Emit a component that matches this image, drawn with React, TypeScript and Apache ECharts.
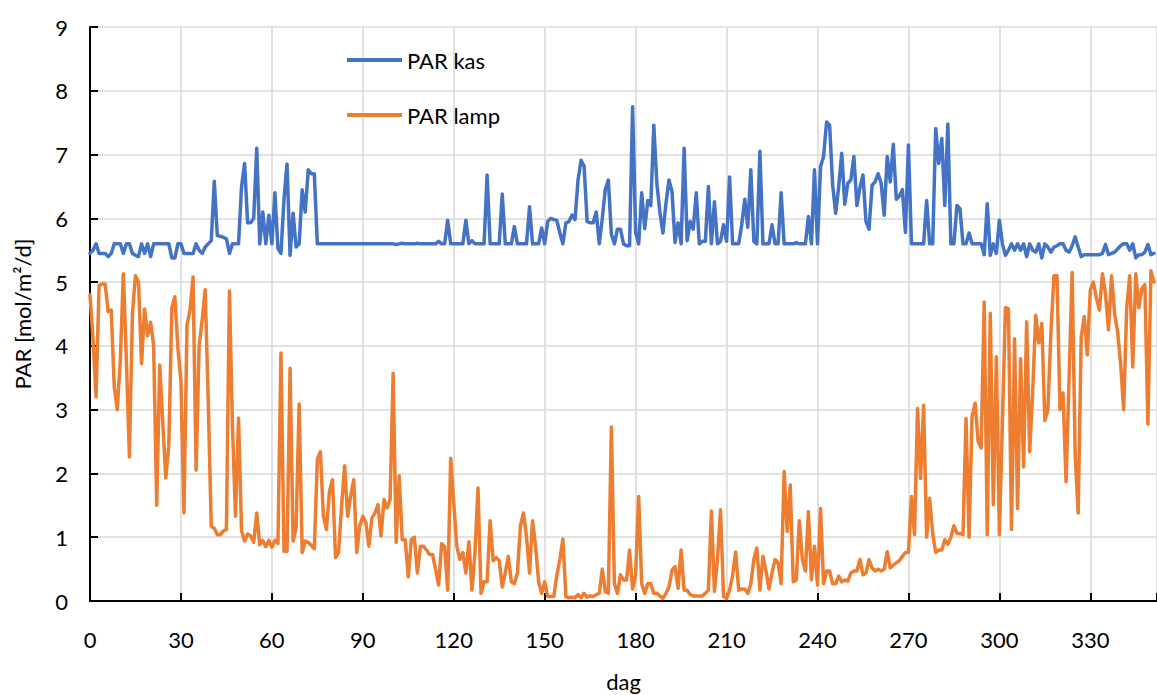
import React, { useEffect, useRef } from "react";
import * as echarts from "echarts";

// PAR kas (blue), one value per day starting at day 0
const parKas: number[] = [
  5.45, 5.5, 5.6, 5.45, 5.45, 5.45, 5.4, 5.45, 5.6, 5.6,
  5.6, 5.45, 5.6, 5.6, 5.45, 5.42, 5.4, 5.6, 5.45, 5.6,
  5.4, 5.6, 5.6, 5.6, 5.6, 5.6, 5.6, 5.38, 5.38, 5.6,
  5.6, 5.45, 5.45, 5.45, 5.45, 5.6, 5.5, 5.45, 5.55, 5.6,
  5.65, 6.58, 5.73, 5.72, 5.7, 5.68, 5.45, 5.6, 5.6, 5.6,
  6.5, 6.86, 5.93, 5.93, 6.0, 7.1, 5.6, 6.1, 5.6, 6.05,
  5.6, 6.4, 5.53, 5.45, 6.3, 6.85, 5.42, 6.08, 5.55, 5.6,
  6.45, 6.1, 6.76, 6.7, 6.7, 5.6, 5.6, 5.6, 5.6, 5.6,
  5.6, 5.6, 5.6, 5.6, 5.6, 5.6, 5.6, 5.6, 5.6, 5.6,
  5.6, 5.6, 5.6, 5.6, 5.6, 5.6, 5.6, 5.6, 5.6, 5.6,
  5.6, 5.59, 5.6, 5.61, 5.6, 5.6, 5.6, 5.6, 5.61, 5.6,
  5.6, 5.6, 5.6, 5.6, 5.6, 5.64, 5.6, 5.6, 5.97, 5.6,
  5.6, 5.6, 5.6, 5.6, 5.97, 5.6, 5.65, 5.6, 5.6, 5.6,
  5.6, 6.68, 5.6, 5.6, 5.6, 5.6, 6.38, 5.6, 5.6, 5.6,
  5.87, 5.6, 5.6, 5.6, 5.6, 6.18, 5.6, 5.6, 5.6, 5.85,
  5.6, 5.95, 6.0, 5.98, 5.97, 5.77, 5.6, 5.93, 5.95, 6.05,
  5.98, 6.6, 6.91, 6.82, 5.95, 5.93, 5.93, 6.1, 5.6, 6.0,
  6.45, 6.6, 5.75, 5.6, 5.83, 5.83, 5.6, 5.57, 5.57, 7.75,
  5.78, 5.6, 6.4, 5.84, 6.28, 6.2, 7.46, 6.55, 6.1, 5.77,
  6.23, 6.6, 6.42, 5.62, 5.93, 5.6, 7.1, 5.65, 5.95, 5.83,
  6.4, 5.6, 5.64, 5.64, 6.5, 5.6, 6.26, 5.6, 5.64, 5.9,
  5.64, 6.65, 5.6, 5.6, 5.6, 5.9, 6.3, 5.86, 6.76, 5.64,
  5.6, 7.05, 5.6, 5.6, 5.6, 5.9, 5.6, 5.6, 6.4, 5.6,
  5.6, 5.6, 5.6, 5.62, 5.6, 5.6, 5.6, 6.03, 5.6, 6.76,
  5.6, 6.81, 6.97, 7.51, 7.46, 6.52, 6.08, 6.5, 7.02, 6.22,
  6.55, 6.6, 6.97, 6.2, 6.48, 6.68, 5.95, 5.83, 6.52, 6.57,
  6.7, 6.55, 6.05, 6.97, 6.57, 7.16, 6.3, 6.35, 6.45, 5.78,
  7.15, 5.6, 5.6, 5.6, 5.6, 5.6, 6.28, 5.6, 5.6, 7.41,
  6.86, 7.25, 6.2, 7.48, 5.6, 5.6, 6.2, 6.15, 5.6, 5.6,
  5.77, 5.6, 5.6, 5.6, 5.6, 5.43, 6.23, 5.42, 5.6, 5.45,
  5.97, 5.6, 5.42, 5.5, 5.6, 5.5, 5.6, 5.5, 5.6, 5.4,
  5.6, 5.5, 5.47, 5.6, 5.38, 5.6, 5.55, 5.47, 5.55, 5.57,
  5.6, 5.6, 5.5, 5.47, 5.57, 5.71, 5.55, 5.4, 5.43, 5.43,
  5.43, 5.43, 5.43, 5.43, 5.45, 5.59, 5.43, 5.45, 5.47, 5.52,
  5.57, 5.6, 5.6, 5.5, 5.6, 5.38, 5.43, 5.43, 5.47, 5.59,
  5.43, 5.45,
];

// PAR lamp (orange), one value per day starting at day 0
const parLamp: number[] = [
  4.8, 4.1, 3.2, 4.95, 4.97, 4.97, 4.54, 4.56, 3.36, 3.0,
  3.78, 5.13, 3.78, 2.26, 4.51, 5.1, 5.0, 3.72, 4.58, 4.16,
  4.37, 4.0, 1.5, 3.7, 2.8, 1.93, 2.44, 4.6, 4.77, 3.96,
  3.45, 1.38, 4.33, 4.56, 5.08, 2.05, 4.0, 4.4, 4.88, 3.15,
  1.17, 1.14, 1.04, 1.04, 1.1, 1.12, 4.86, 2.74, 1.33, 2.87,
  1.1, 0.94, 1.05, 1.02, 0.92, 1.38, 0.88, 0.95, 0.85, 0.95,
  0.84, 0.95, 0.9, 3.89, 0.78, 0.78, 3.65, 0.94, 1.15, 3.09,
  0.76, 0.94, 0.92, 0.87, 0.82, 2.22, 2.34, 1.33, 1.12, 1.72,
  1.9, 0.68, 0.76, 1.49, 2.12, 1.33, 1.65, 1.9, 0.76, 1.18,
  1.33, 1.23, 0.86, 1.3, 1.38, 1.51, 1.02, 1.59, 1.46, 1.59,
  3.57, 0.92, 1.96, 0.96, 0.96, 0.38, 0.96, 1.0, 0.44, 0.86,
  0.86, 0.8, 0.73, 0.73, 0.5, 0.25, 0.9, 0.85, 0.17, 2.24,
  1.54, 0.86, 0.65, 0.76, 0.44, 0.93, 0.17, 0.76, 1.77, 0.12,
  0.3, 0.3, 1.26, 0.63, 0.68, 0.63, 0.22, 0.44, 0.7, 0.3,
  0.27, 0.44, 1.18, 1.38, 1.01, 0.44, 1.26, 0.86, 0.3, 0.12,
  0.3, 0.07, 0.07, 0.07, 0.4, 0.65, 0.97, 0.07, 0.05, 0.06,
  0.05, 0.1, 0.05, 0.12, 0.06, 0.08, 0.07, 0.1, 0.12, 0.5,
  0.15, 0.12, 2.73, 0.27, 0.12, 0.41, 0.33, 0.33, 0.8, 0.19,
  0.41, 1.64, 0.27, 0.12, 0.27, 0.27, 0.12, 0.12, 0.08, 0.04,
  0.12, 0.22, 0.48, 0.54, 0.2, 0.8, 0.17, 0.17, 0.1, 0.08,
  0.08, 0.08, 0.08, 0.12, 0.17, 1.41, 0.15, 0.65, 1.43, 0.07,
  0.04, 0.17, 0.4, 0.77, 0.17, 0.19, 0.19, 0.12, 0.27, 0.65,
  0.83, 0.17, 0.7, 0.47, 0.19, 0.44, 0.65, 0.6, 0.27, 2.03,
  1.09, 1.82, 0.3, 0.33, 1.26, 0.65, 0.47, 1.4, 0.33, 0.86,
  0.25, 1.45, 0.27, 0.47, 0.47, 0.27, 0.27, 0.39, 0.3, 0.33,
  0.31, 0.44, 0.47, 0.47, 0.65, 0.41, 0.44, 0.65, 0.52, 0.47,
  0.5, 0.47, 0.5, 0.77, 0.52, 0.56, 0.6, 0.63, 0.7, 0.76,
  0.76, 1.64, 1.04, 3.02, 1.92, 3.07, 1.0, 1.61, 1.06, 0.76,
  0.8, 0.8, 0.96, 0.89, 1.0, 1.18, 1.06, 1.06, 1.04, 2.86,
  1.0, 2.9, 3.1, 2.5, 2.4, 4.69, 1.04, 4.51, 1.51, 3.83,
  1.04, 2.8, 4.6, 4.58, 1.12, 4.11, 1.45, 3.8, 2.1, 4.38,
  2.34, 3.3, 4.48, 4.05, 4.35, 2.83, 3.0, 4.2, 5.1, 5.1,
  3.0, 3.26, 1.87, 3.5, 5.15, 2.31, 1.38, 4.14, 4.46, 3.86,
  4.88, 5.0, 4.75, 4.56, 5.13, 4.82, 4.25, 5.1, 4.51, 4.22,
  3.72, 3.0, 4.6, 5.1, 3.67, 5.13, 4.6, 4.9, 4.96, 2.77,
  5.18, 5.0,
];

const xTickLabels: number[] = [0, 30, 60, 90, 120, 150, 180, 210, 240, 270, 300, 330];
const yTickLabels: number[] = [0, 1, 2, 3, 4, 5, 6, 7, 8, 9];
const seriesNames = ["PAR kas", "PAR lamp"];
const xName = "dag";
const yName = "PAR [mol/m²/d]";

const FONT = "Lato, 'Open Sans', sans-serif";

export default function App() {
  const ref = useRef<HTMLDivElement>(null);

  useEffect(() => {
    if (!ref.current) return;
    const chart = echarts.init(ref.current, undefined, { renderer: "svg" });
    const kasData = parKas.map((v, i) => [i, v]);
    const lampData = parLamp.map((v, i) => [i, v]);
    chart.setOption({
      animation: false,
      backgroundColor: "#ffffff",
      textStyle: { fontFamily: FONT },
      grid: {
        left: 90,
        right: 0,
        top: 27,
        bottom: 94,
        containLabel: false,
        outerBoundsMode: "none",
      },
      legend: {
        orient: "vertical",
        left: 342,
        top: 44,
        itemWidth: 55,
        itemHeight: 4,
        itemGap: 33,
        icon: "rect",
        data: seriesNames,
        textStyle: { fontSize: 22, color: "#000", fontFamily: FONT },
      },
      xAxis: {
        type: "value",
        min: 0,
        max: 352,
        interval: 30,
        name: xName,
        nameLocation: "middle",
        nameGap: 69,
        nameTextStyle: { fontSize: 22, color: "#000", fontFamily: FONT },
        axisLine: { show: true, onZero: false, lineStyle: { color: "#000", width: 2 } },
        axisTick: { show: true, inside: true, length: 8, lineStyle: { color: "#000", width: 2 } },
        axisLabel: {
          fontSize: 22,
          color: "#000",
          margin: 27,
          fontFamily: FONT,
          formatter: (v: number) => (xTickLabels.includes(v) ? String(v) : ""),
        },
        splitLine: { show: true, lineStyle: { color: "#d9d9d9", width: 1.5 } },
      },
      yAxis: {
        type: "value",
        min: 0,
        max: 9,
        interval: 1,
        name: yName,
        nameLocation: "middle",
        nameGap: 57,
        nameTextStyle: { fontSize: 22, color: "#000", fontFamily: FONT },
        axisLine: { show: true, lineStyle: { color: "#000", width: 2 } },
        axisTick: { show: true, inside: true, length: 8, lineStyle: { color: "#000", width: 2 } },
        axisLabel: {
          fontSize: 22,
          color: "#000",
          margin: 22,
          fontFamily: FONT,
          formatter: (v: number) => (yTickLabels.includes(v) ? String(v) : ""),
        },
        splitLine: { show: true, lineStyle: { color: "#d9d9d9", width: 1.5 } },
      },
      series: [
        {
          name: seriesNames[0],
          type: "line",
          data: kasData,
          showSymbol: false,
          symbol: "none",
          color: "#4472C4",
          lineStyle: { color: "#4472C4", width: 3.5, join: "round", cap: "round" },
          z: 3,
        },
        {
          name: seriesNames[1],
          type: "line",
          data: lampData,
          showSymbol: false,
          symbol: "none",
          color: "#ED7D31",
          lineStyle: { color: "#ED7D31", width: 3.5, join: "round", cap: "round" },
          z: 2,
        },
      ],
    });
    return () => chart.dispose();
  }, []);

  return (
    <div
      ref={ref}
      style={{ position: "absolute", left: 0, top: 0, width: 1157, height: 695 }}
    />
  );
}
